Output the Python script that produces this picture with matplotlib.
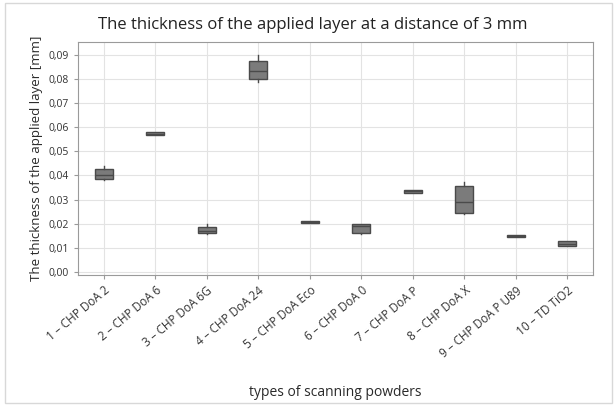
import matplotlib
matplotlib.use("Agg")
import matplotlib.pyplot as plt
from matplotlib.patches import Rectangle

categories = ["1 – CHP DoA 2", "2 – CHP DoA 6", "3 – CHP DoA 6G", "4 – CHP DoA 24",
              "5 – CHP DoA Eco", "6 – CHP DoA 0", "7 – CHP DoA P", "8 – CHP DoA X",
              "9 – CHP DoA P U89", "10 – TD TiO2"]
whisker_low = [0.0379, 0.0566, 0.0157, 0.0787, 0.0203, 0.0158, 0.0328, 0.0240, 0.0146, 0.0106]
q1          = [0.0385, 0.0566, 0.0160, 0.0797, 0.0203, 0.0160, 0.0328, 0.0244, 0.0146, 0.0110]
median      = [0.0401, 0.0572, 0.0170, 0.0834, 0.0207, 0.0190, 0.0334, 0.0291, 0.0150, 0.0118]
q3          = [0.0427, 0.0579, 0.0186, 0.0874, 0.0211, 0.0198, 0.0339, 0.0357, 0.0154, 0.0127]
whisker_high= [0.0437, 0.0579, 0.0198, 0.0897, 0.0211, 0.0198, 0.0339, 0.0371, 0.0154, 0.0127]
yticks = [0.00, 0.01, 0.02, 0.03, 0.04, 0.05, 0.06, 0.07, 0.08, 0.09]
ytick_labels = ["0,00", "0,01", "0,02", "0,03", "0,04", "0,05", "0,06", "0,07", "0,08", "0,09"]

plt.rcParams['font.family'] = ['Open Sans', 'DejaVu Sans']

fig = plt.figure(figsize=(6.14, 4.09), dpi=100)
ax = fig.add_axes([78/614, 1 - 275/409, (593-78)/614, (275-42)/409])

stats = []
for i in range(len(categories)):
    stats.append(dict(whislo=whisker_low[i], q1=q1[i], med=median[i], q3=q3[i],
                      whishi=whisker_high[i], fliers=[], label=categories[i]))

ax.bxp(stats, positions=range(1, len(categories) + 1), widths=0.35, patch_artist=True,
       showcaps=False,
       boxprops=dict(facecolor="#7b7b7b", edgecolor="#4a4a4a", linewidth=1.0),
       medianprops=dict(color="#4a4a4a", linewidth=1.0),
       whiskerprops=dict(color="#4a4a4a", linewidth=1.0))

ax.set_xlim(0.5, 10.5)
ax.set_ylim(-0.0012, 0.0952)
ax.set_yticks(yticks)
ax.set_yticklabels(ytick_labels, fontsize=7.5)
ax.set_xticks(range(1, len(categories) + 1))
ax.set_xticklabels(categories, rotation=40, ha="right", rotation_mode="anchor", fontsize=8.5)
ax.grid(True, color="#e3e3e3", linewidth=0.8)
ax.set_axisbelow(True)
for s in ax.spines.values():
    s.set_color("#9a9a9a")
ax.tick_params(colors="#333333", length=3, color="#9a9a9a")

ax.set_ylabel("The thickness of the applied layer [mm]", fontsize=9.5, color="#2a2a2a")
fig.text(335/614, 1 - 392/409, "types of scanning powders",
         ha="center", va="center", fontsize=10, color="#2a2a2a")
fig.text(313/614, 1 - 25/409, "The thickness of the applied layer at a distance of 3 mm",
         ha="center", va="center", fontsize=12, color="#222222")

fig.patches.append(Rectangle((5/614, 6/409), 607/614, 400/409, transform=fig.transFigure,
                             fill=False, edgecolor="#d8d8d8", linewidth=1))

fig.savefig("out.png", dpi=100)
